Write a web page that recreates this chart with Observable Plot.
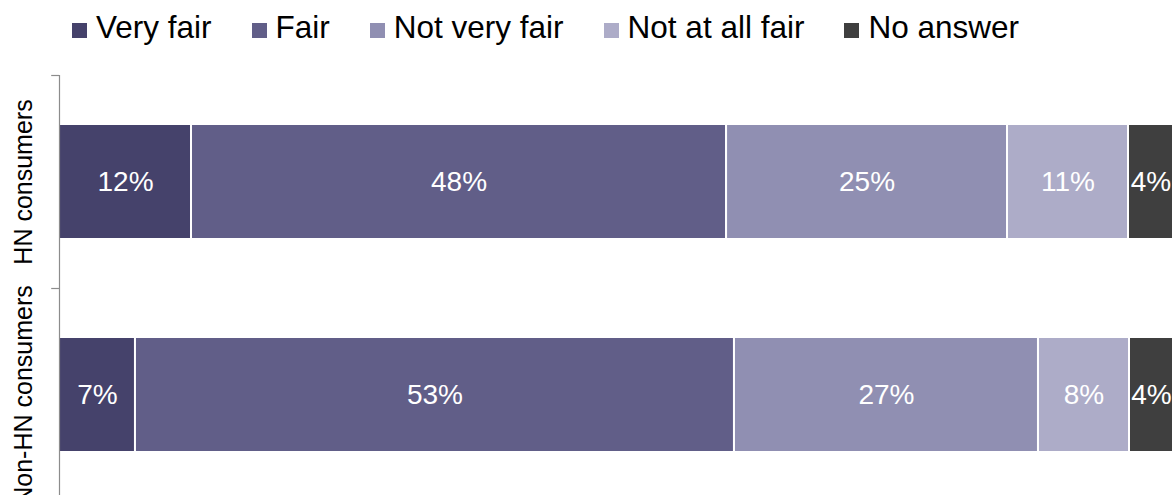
<!DOCTYPE html>
<html>
<head>
<meta charset="utf-8">
<script src="https://cdn.jsdelivr.net/npm/d3@7"></script>
<script src="https://cdn.jsdelivr.net/npm/@observablehq/plot@0.6"></script>
<style>
  html, body { margin: 0; padding: 0; background: #fff; overflow: hidden; }
  body { width: 1176px; height: 495px; font-family: "Liberation Sans", Arial, sans-serif; }
  #legend { position: relative; height: 60px; }
  #legend .items { position: absolute; left: 72px; top: 12px; display: flex; font-size: 31.5px; line-height: 30px; color: #000; white-space: nowrap; }
  #legend .item { margin-right: 40px; }
  #legend .sw { display: inline-block; width: 15px; height: 15px; margin-right: 9px; vertical-align: baseline; }
  #chart svg { display: block; overflow: visible; }
</style>
</head>
<body>
<div id="legend"><div class="items"></div></div>
<div id="chart"></div>
<script>
// ---- data ----
const groups = ["HN consumers", "Non-HN consumers"];
const answers = ["Very fair", "Fair", "Not very fair", "Not at all fair", "No answer"];
const colors = ["#45426b", "#615e88", "#908fb2", "#adacc8", "#3f3f3f"];
const hnValues = [11.85, 48.03, 25.22, 10.86, 4.04];
const nonHnValues = [6.82, 53.77, 27.29, 8.17, 3.95];
const hnLabels = ["12%", "48%", "25%", "11%", "4%"];
const nonHnLabels = ["7%", "53%", "27%", "8%", "4%"];

const table = [];
answers.forEach((a, i) => table.push({group: groups[0], answer: a, value: hnValues[i], label: hnLabels[i]}));
answers.forEach((a, i) => table.push({group: groups[1], answer: a, value: nonHnValues[i], label: nonHnLabels[i]}));

// ---- legend ----
const items = document.querySelector("#legend .items");
answers.forEach((a, i) => {
  const s = document.createElement("span");
  s.className = "item";
  s.innerHTML = `<span class="sw" style="background:${colors[i]}"></span>${a}`;
  items.appendChild(s);
});

// ---- chart ----
const W = 1176, H = 435;
const yRange = [15, 441];
const step = (yRange[1] - yRange[0]) / groups.length;
const font = "Liberation Sans, Arial, sans-serif";

const chart = Plot.plot({
  width: W,
  height: H,
  marginLeft: 59,
  marginRight: 3,
  marginTop: 15,
  marginBottom: 0,
  style: {fontFamily: font, background: "transparent"},
  x: {domain: [0, 100], axis: null},
  y: {domain: groups, range: yRange, paddingInner: 0.46, paddingOuter: 0.23, axis: null},
  color: {domain: answers, range: colors},
  marks: [
    Plot.barX(table, {x: "value", y: "group", fill: "answer", order: answers, stroke: "white", strokeWidth: 2}),
    Plot.text(table, Plot.stackX({x: "value", y: "group", z: "answer", order: answers, text: "label",
      fill: "white", fontSize: 28, textAnchor: "middle", lineAnchor: "middle"})),
    Plot.ruleX([0], {stroke: "#8c8c8c", strokeWidth: 1.2}),
    Plot.ruleY(groups, {y: d => d, x1: -0.7, x2: 0, dy: -step / 2, stroke: "#8c8c8c", strokeWidth: 1.2, clip: false}),
    Plot.text(groups, {y: d => d, x: 0, text: d => d, rotate: -90, dx: -36, fontSize: 25,
      fill: "black", textAnchor: "middle", lineAnchor: "middle"})
  ]
});
document.getElementById("chart").appendChild(chart);
</script>
</body>
</html>
